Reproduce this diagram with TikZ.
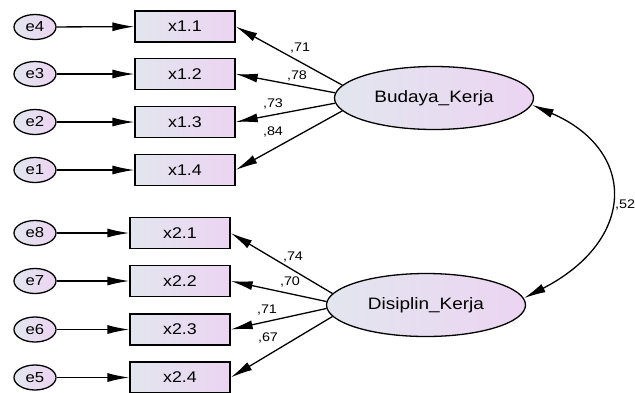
\documentclass[tikz,border=0pt]{standalone}
\usepackage{fontspec}
\setmainfont{Liberation Sans}[FakeStretch=1.15]
\usetikzlibrary{arrows.meta,shapes.geometric}

\definecolor{shadeL}{RGB}{226,230,238}
\definecolor{shadeR}{RGB}{236,212,242}

\tikzset{
    obsbox/.style={draw, line width=1.3pt, rectangle, inner sep=0pt,
        minimum width=100pt, minimum height=31pt,
        left color=shadeL, right color=shadeR,
        font=\fontsize{15.5}{15.5}\selectfont},
    errnode/.style={draw, line width=1.3pt, ellipse, inner sep=0pt,
        minimum width=42pt, minimum height=25pt,
        left color=shadeL, right color=shadeR,
        font=\fontsize{14.5}{14.5}\selectfont},
    latnode/.style={draw, line width=1.3pt, ellipse, inner sep=0pt,
        minimum width=199pt, minimum height=63pt,
        left color=shadeL, right color=shadeR,
        font=\fontsize{16.5}{16.5}\selectfont},
    arr/.style={line width=1.3pt, -{Latex[length=22pt,width=9pt]}},
    est/.style={font=\fontsize{12.5}{12.5}\selectfont, inner sep=0pt}
}

\begin{document}
\begin{tikzpicture}[x=1pt, y=-1pt]
        \useasboundingbox (0,0) rectangle (635,392);

        % Budaya_Kerja
        \node[latnode] (bk) at (434,98) {Budaya\_Kerja};
        \node[obsbox] (x11) at (185,26.5) {x1.1};
        \node[obsbox] (x12) at (185,74) {x1.2};
        \node[obsbox] (x13) at (185,122) {x1.3};
        \node[obsbox] (x14) at (185,170) {x1.4};
        \node[errnode] (e4) at (35,27) {e4};
        \node[errnode] (e3) at (35,74) {e3};
        \node[errnode] (e2) at (35,122) {e2};
        \node[errnode] (e1) at (35,170) {e1};

        % Disiplin_Kerja
        \node[latnode] (dk) at (426,305) {Disiplin\_Kerja};
        \node[obsbox] (x21) at (180,233) {x2.1};
        \node[obsbox] (x22) at (180,281) {x2.2};
        \node[obsbox] (x23) at (180,329.5) {x2.3};
        \node[obsbox] (x24) at (180,377.5) {x2.4};
        \node[errnode] (e8) at (35,233) {e8};
        \node[errnode] (e7) at (35,281) {e7};
        \node[errnode] (e6) at (35,329.5) {e6};
        \node[errnode] (e5) at (35,377.5) {e5};

        \draw[arr] (e4) -- (x11);
        \draw[arr] (e3) -- (x12);
        \draw[arr] (e2) -- (x13);
        \draw[arr] (e1) -- (x14);
        \draw[arr] (e8) -- (x21);
        \draw[arr] (e7) -- (x22);
        \draw[arr] (e6) -- (x23);
        \draw[arr] (e5) -- (x24);

        \draw[arr] (bk.172) -- (x11.east);
        \draw[arr] (bk.177) -- (x12.east);
        \draw[arr] (bk.183) -- (x13.east);
        \draw[arr] (bk.188) -- (x14.east);
        \draw[arr] (dk.173) -- (x21.east);
        \draw[arr] (dk.178) -- (x22.east);
        \draw[arr] (dk.182) -- (x23.east);
        \draw[arr] (dk.187) -- (x24.east);

        \draw[line width=1.3pt, {Latex[length=22pt,width=9pt]}-{Latex[length=22pt,width=9pt]}]
            (bk.-4) .. controls (637,150) and (637,240) .. (dk.4);

        % estimates
        \node[est] (l11) at (300,48) {,71};
        \node[est] (l12) at (297,76) {,78};
        \node[est] (l13) at (273,104) {,73};
        \node[est] (l14) at (273,132) {,84};
        \node[est] (l21) at (293,257) {,74};
        \node[est] (l22) at (290,282) {,70};
        \node[est] (l23) at (267,310) {,71};
        \node[est] (l24) at (268,338) {,67};
        \node[est] (lcov) at (625,205) {,52};
    \end{tikzpicture}
\end{document}
